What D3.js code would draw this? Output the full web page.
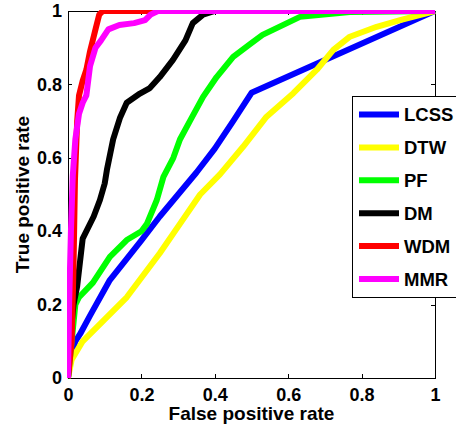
<!DOCTYPE html>
<meta charset="utf-8">
<style>
  body {
    margin: 0;
    background: #fff;
  }
  text {
    font-family: "Liberation Sans", Arial, Helvetica, sans-serif;
    font-weight: bold;
    fill: #000;
  }
  .axis path,
  .axis line {
    stroke: #000;
    stroke-width: 1px;
    shape-rendering: crispEdges;
  }
  .axis text {
    font-size: 18px;
  }
  .axis-label {
    font-size: 19px;
    text-anchor: middle;
  }
  .roc {
    fill: none;
    stroke-width: 6px;
    stroke-linejoin: round;
    stroke-linecap: butt;
  }
  .legend-box {
    fill: #fff;
    stroke: #000;
    stroke-width: 1px;
    shape-rendering: crispEdges;
  }
  .legend-label {
    font-size: 18.5px;
  }
</style>
<body>
<div id="vis"></div>

<script src="https://cdn.jsdelivr.net/npm/d3@7/dist/d3.min.js"></script>
<script>

// tick values and labels
const tickValues = [0, 0.2, 0.4, 0.6, 0.8, 1];
const tickLabels = ['0', '0.2', '0.4', '0.6', '0.8', '1'];

// series names and colours, in plotting order
const methods = ['LCSS', 'DTW', 'PF', 'DM', 'WDM', 'MMR'];
const colors = ['#0000ff', '#ffff00', '#00ff00', '#000000', '#ff0000', '#ff00ff'];

// ROC curves: [false positive rate, true positive rate]
const lcss = [[0,0],[0.005,0.05],[0.02,0.1],[0.033,0.12],[0.06,0.17],[0.114,0.267],[0.2,0.375],
  [0.25,0.44],[0.3,0.5],[0.35,0.56],[0.4,0.625],[0.45,0.7],[0.5,0.777],[1,1]];
const dtw = [[0,0],[0.01,0.05],[0.04,0.1],[0.1,0.16],[0.16,0.22],[0.25,0.34],[0.305,0.42],
  [0.36,0.5],[0.414,0.555],[0.477,0.63],[0.541,0.712],[0.614,0.776],[0.678,0.84],[0.723,0.894],
  [0.768,0.93],[0.841,0.957],[0.905,0.975],[1,1]];
const pf = [[0,0],[0.01,0.1],[0.02,0.2],[0.03,0.22],[0.068,0.26],[0.114,0.33],[0.16,0.376],
  [0.2,0.4],[0.215,0.42],[0.242,0.485],[0.26,0.548],[0.287,0.6],[0.305,0.65],[0.332,0.7],
  [0.368,0.766],[0.405,0.82],[0.45,0.875],[0.496,0.91],[0.53,0.935],[0.632,0.984],[0.768,0.997],[1,1]];
const dm = [[0,0],[0.005,0.1],[0.015,0.2],[0.025,0.25],[0.04,0.38],[0.07,0.44],[0.087,0.485],
  [0.1,0.53],[0.106,0.567],[0.123,0.65],[0.142,0.71],[0.16,0.75],[0.196,0.775],[0.223,0.79],
  [0.25,0.82],[0.286,0.867],[0.32,0.92],[0.34,0.967],[0.368,0.99],[0.4,1],[1,1]];
const wdm = [[0,0],[0.01,0.1],[0.015,0.3],[0.019,0.54],[0.025,0.7],[0.03,0.77],[0.04,0.81],
  [0.05,0.84],[0.06,0.89],[0.075,0.95],[0.085,0.99],[0.095,1],[1,1]];
const mmr = [[0,0],[0.003,0.2],[0.008,0.4],[0.013,0.55],[0.02,0.65],[0.03,0.72],[0.04,0.75],
  [0.05,0.77],[0.06,0.85],[0.075,0.9],[0.09,0.92],[0.11,0.95],[0.14,0.962],[0.18,0.967],
  [0.21,0.975],[0.225,0.99],[0.245,1],[1,1]];

const curves = [lcss, dtw, pf, dm, wdm, mmr];

const width = 456,
    height = 425;

let margin = {l:68, r:21, t:11, b:47};
let plotW = width - margin.l - margin.r;
let plotH = height - margin.t - margin.b;

let x = d3.scaleLinear().domain([0, 1]).range([0, plotW]);
let y = d3.scaleLinear().domain([0, 1]).range([plotH, 0]);

const line = d3.line()
    .x(d => x(d[0]))
    .y(d => y(d[1]));

svg = d3.select('#vis')
    .append('svg')
    .attr('width', width)
    .attr('height', height);

transG = svg.append('g')
    .attr('transform', 'translate('+[margin.l, margin.t]+')');

transG.append('clipPath')
    .attr('id', 'plot-clip')
  .append('rect')
    .attr('x', -1)
    .attr('y', -1)
    .attr('width', plotW + 2)
    .attr('height', plotH + 2);

// axes, ticks point inward on all four sides
transG.append('g')
    .attr('class', 'axis axis-x')
    .attr('transform', 'translate(0,'+plotH+')')
    .call(d3.axisBottom(x).tickValues(tickValues).tickFormat((d,i) => tickLabels[i])
      .tickSizeInner(-4).tickSizeOuter(0).tickPadding(10));
transG.append('g')
    .attr('class', 'axis axis-y')
    .call(d3.axisLeft(y).tickValues(tickValues).tickFormat((d,i) => tickLabels[i])
      .tickSizeInner(-4).tickSizeOuter(0).tickPadding(6));
transG.append('g')
    .attr('class', 'axis axis-top')
    .call(d3.axisTop(x).tickValues(tickValues).tickFormat('')
      .tickSizeInner(-4).tickSizeOuter(0));
transG.append('g')
    .attr('class', 'axis axis-right')
    .attr('transform', 'translate('+plotW+',0)')
    .call(d3.axisRight(y).tickValues(tickValues).tickFormat('')
      .tickSizeInner(-4).tickSizeOuter(0));

transG.selectAll('.axis-x text').attr('dy', '0.71em');

// curves
transG.append('g')
    .attr('clip-path', 'url(#plot-clip)')
  .selectAll('.roc')
    .data(curves)
    .enter().append('path')
    .attr('class', 'roc')
    .style('stroke', (d,i) => colors[i])
    .attr('d', line);

// axis labels
transG.append('text')
    .attr('class', 'axis-label')
    .attr('x', plotW/2)
    .attr('y', plotH + 42)
    .text('False positive rate');
transG.append('text')
    .attr('class', 'axis-label')
    .attr('transform', 'translate('+[-39, plotH/2]+') rotate(-90)')
    .text('True positive rate');

// legend
let legendG = svg.append('g')
    .attr('class', 'legend')
    .attr('transform', 'translate('+[352, 96]+')');
legendG.append('rect')
    .attr('class', 'legend-box')
    .attr('x', 0.5)
    .attr('y', 0.5)
    .attr('width', 120)
    .attr('height', 201);

let item = legendG.selectAll('.legend-item')
    .data(methods)
    .enter().append('g')
    .attr('class', 'legend-item')
    .attr('transform', (d,i) => 'translate('+[0, 18.5 + i*32.9]+')');
item.append('line')
    .attr('x1', 7)
    .attr('x2', 47)
    .style('stroke', (d,i) => colors[i])
    .style('stroke-width', 6);
item.append('text')
    .attr('class', 'legend-label')
    .attr('x', 52)
    .attr('dy', '0.36em')
    .text(d => d);

</script>
</body>
